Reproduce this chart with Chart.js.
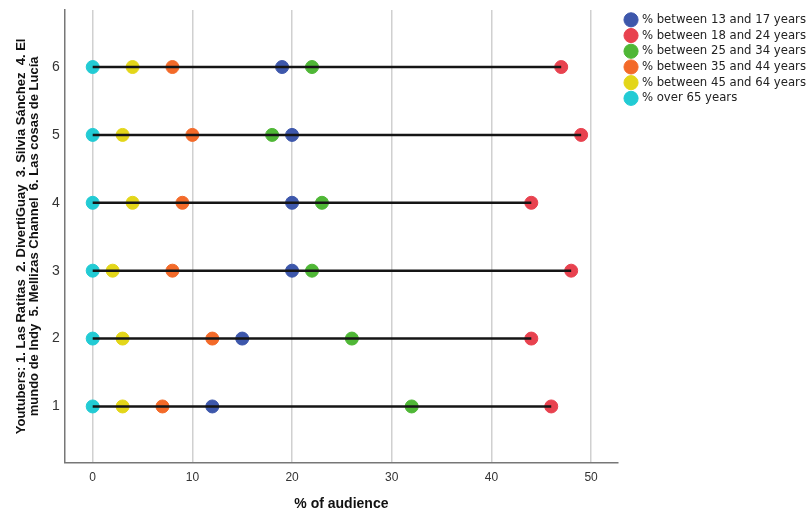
<!DOCTYPE html>
<html>
<head>
<meta charset="utf-8">
<script src="https://cdn.jsdelivr.net/npm/chart.js@4.4.1/dist/chart.umd.min.js"></script>
<style>
  html, body { margin: 0; padding: 0; background: #fff; }
  #wrap { width: 809px; height: 514px; }
</style>
</head>
<body>
<div id="wrap"><canvas id="chDots"></canvas></div>
<script>
// youtuber rows (1..6) and % of audience per age group
var youtubers = [1, 2, 3, 4, 5, 6];
var seriesNames = ['% between 13 and 17 years', '% between 18 and 24 years', '% between 25 and 34 years',
                   '% between 35 and 44 years', '% between 45 and 64 years', '% over 65 years'];
var age13to17 = [12, 15, 20, 20, 20, 19];
var age18to24 = [46, 44, 48, 44, 49, 47];
var age25to34 = [32, 26, 22, 23, 18, 22];
var age35to44 = [7, 12, 8, 9, 10, 8];
var age45to64 = [3, 3, 2, 4, 3, 4];
var over65 = [0, 0, 0, 0, 0, 0];
var xTicks = [0, 10, 20, 30, 40, 50];

var colors = ['#3d57ab', '#e8424f', '#4fb736', '#f36a29', '#e3d619', '#22cbd4'];
var allSeries = [age13to17, age18to24, age25to34, age35to44, age45to64, over65];

var datasets = [];

// black range lines, one per youtuber (drawn on top of dots)
youtubers.forEach(function(row, i) {
    var vals = allSeries.map(function(s) { return s[i]; });
    datasets.push({
        type: 'line',
        label: '_range' + row,
        data: [{ x: Math.min.apply(null, vals), y: row }, { x: Math.max.apply(null, vals), y: row }],
        borderColor: '#151515',
        borderWidth: 2.5,
        pointRadius: 0,
        fill: false,
        order: 0
    });
});

// dots
allSeries.forEach(function(s, k) {
    datasets.push({
        type: 'scatter',
        label: seriesNames[k],
        data: s.map(function(v, i) { return { x: v, y: youtubers[i] }; }),
        backgroundColor: colors[k],
        borderColor: colors[k],
        borderWidth: 1,
        pointRadius: 6.5,
        pointStyle: 'circle',
        order: 1
    });
});

// nudge the legend a bit to the right, away from the plot
var legendNudge = {
    id: 'legendNudge',
    afterLayout: function(chart) {
        if (chart.legend) {
            chart.legend.left += 4;
            chart.legend.right += 4;
        }
    }
};

var chDots = document.getElementById('chDots');
new Chart(chDots, {
    type: 'scatter',
    data: { datasets: datasets },
    plugins: [legendNudge],
    options: {
        responsive: true,
        maintainAspectRatio: false,
        animation: false,
        layout: { padding: { top: 10, left: 15, right: -3, bottom: 1 } },
        plugins: {
            tooltip: { enabled: false },
            legend: {
                position: 'right',
                align: 'start',
                labels: {
                    filter: function(item) { return item.text.indexOf('_range') !== 0; },
                    usePointStyle: true,
                    boxWidth: 10,
                    boxHeight: 10,
                    padding: 4,
                    color: '#222',
                    font: { family: 'DejaVu Sans', size: 11.7 }
                }
            }
        },
        scales: {
            x: {
                type: 'linear',
                min: -2.8,
                max: 52.7,
                afterBuildTicks: function(axis) { axis.ticks = xTicks.map(function(v) { return { value: v }; }); },
                grid: { color: '#d0d0d0', lineWidth: 1.5, drawTicks: false },
                border: { display: true, color: '#777', width: 1.5 },
                ticks: { color: '#333', padding: 8, font: { family: 'Liberation Sans', size: 12 } },
                title: {
                    display: true,
                    text: '% of audience',
                    color: '#111',
                    padding: { top: 3, bottom: 0 },
                    font: { family: 'Liberation Sans', size: 14, weight: 'bold' }
                }
            },
            y: {
                type: 'linear',
                min: 0.17,
                max: 6.84,
                afterBuildTicks: function(axis) { axis.ticks = youtubers.map(function(v) { return { value: v }; }); },
                grid: { display: false, drawTicks: false },
                border: { display: true, color: '#777', width: 1.5 },
                ticks: { color: '#333', padding: 5, font: { family: 'Liberation Sans', size: 14, lineHeight: 0.6 } },
                title: {
                    display: true,
                    text: ['Youtubers: 1. Las Ratitas  2. DivertiGuay  3. Silvia Sánchez  4. El',
                           'mundo de Indy  5. Mellizas Channel  6. Las cosas de Lucía'],
                    color: '#111',
                    padding: { top: 0, bottom: 6 },
                    font: { family: 'Liberation Sans', size: 13, weight: 'bold', lineHeight: 1.0 }
                }
            }
        }
    }
});
</script>
</body>
</html>
